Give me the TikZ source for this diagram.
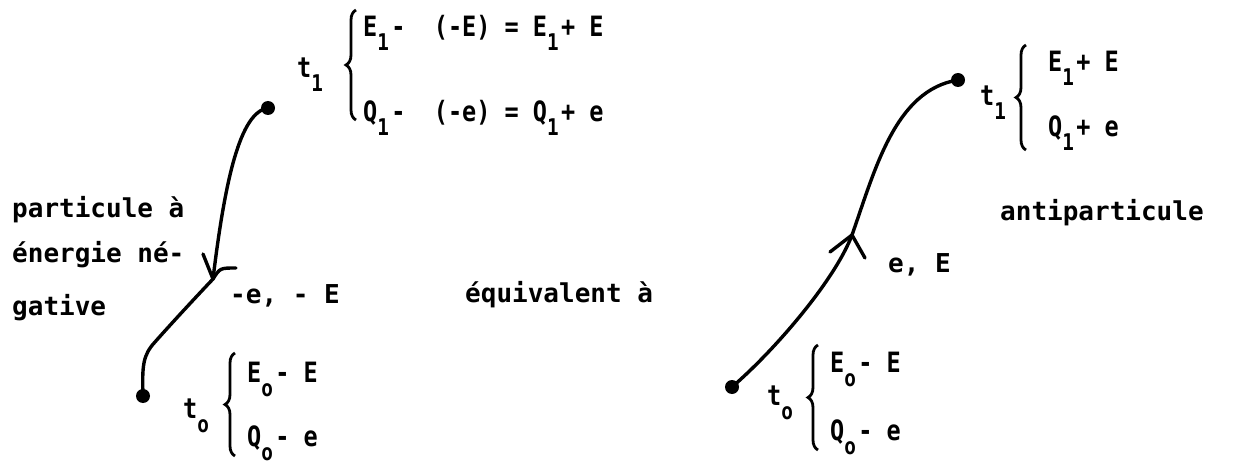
\documentclass[tikz,border=0pt]{standalone}
\usepackage{fontspec}
\newfontfamily\labf[FakeStretch=1.0]{DejaVu Sans Mono}
\newfontfamily\eqf[FakeStretch=0.84]{DejaVu Sans Mono}
\usetikzlibrary{decorations.pathreplacing}
\newcommand\lw[1]{\makebox[0.5em][l]{\raisebox{-0.5em}{\fontsize{23}{23}\selectfont #1}}}
\begin{document}
\begin{tikzpicture}[x=1pt,y=-1pt,
  lab/.style={anchor=base west, inner sep=0pt, font=\labf\bfseries\fontsize{26}{30}\selectfont},
  eq/.style={anchor=base west, inner sep=0pt, font=\eqf\bfseries\fontsize{28}{30}\selectfont},
  world/.style={line width=3.4pt, line cap=round, line join=round},
  dot/.style={circle, fill, inner sep=0pt, minimum size=14pt},
  brc/.style={decorate, decoration={brace, amplitude=10pt}, line width=2.8pt}]
\useasboundingbox (0,0) rectangle (1243,468);
% dots
\node[dot] (ld1) at (268,108) {};
\node[dot] (ld0) at (143,396) {};
\node[dot] (rd0) at (732,387) {};
\node[dot] (rd1) at (958,80) {};
\coordinate (ltip) at (213,279);
\coordinate (lbend) at (155,342);
\coordinate (rtip) at (852,235);
% left world line
\draw[world] (ld1.center) .. controls (240,112) and (225,180) .. (ltip)
  .. controls (195,298) and (170,325) .. (lbend)
  .. controls (143,355) and (142,365) .. (ld0.center);
\draw[world] (203,254) -- (ltip) .. controls (220,268) .. (236,268);
% right world line
\draw[world] (rd0.center) .. controls (775,350) and (835,280) .. (rtip)
  .. controls (875,170) and (895,90) .. (rd1.center);
\draw[world] (830,252) -- (rtip) -- (865,258);
% braces
\draw[brc] (356,120) -- (356,10);
\draw[brc] (235,456) -- (235,353);
\draw[brc] (1026,150) -- (1026,45);
\draw[brc] (818,450) -- (818,345);
% equations
\node[eq] (t1l) at (297,78) {t\lw{1}};
\node[eq] (e1a) at (363,37) {E\lw{1}-~~(-E) = E\lw{1}+ E};
\node[eq] (e1b) at (363,122) {Q\lw{1}-~~(-e) = Q\lw{1}+ e};
\node[eq] (t0l) at (183,418) {t\lw{o}};
\node[eq] (e0a) at (247,382) {E\lw{o}- E};
\node[eq] (e0b) at (247,446) {Q\lw{o}- e};
\node[eq] (t1r) at (980,106) {t\lw{1}};
\node[eq] (e1c) at (1048,72) {E\lw{1}+ E};
\node[eq] (e1d) at (1048,137) {Q\lw{1}+ e};
\node[eq] (t0r) at (767,405) {t\lw{o}};
\node[eq] (e0c) at (830,372) {E\lw{o}- E};
\node[eq] (e0d) at (830,440) {Q\lw{o}- e};
% labels
\node[lab] (p1) at (12,218) {particule à};
\node[lab] (p2) at (12,262) {énergie né-};
\node[lab] (p3) at (12,315) {gative};
\node[lab] (me) at (230,303) {-e, - E};
\node[lab] (equiv) at (465,302) {équivalent à};
\node[lab] (anti) at (1000,220) {antiparticule};
\node[lab] (eE) at (888,272) {e, E};
\end{tikzpicture}
\end{document}
